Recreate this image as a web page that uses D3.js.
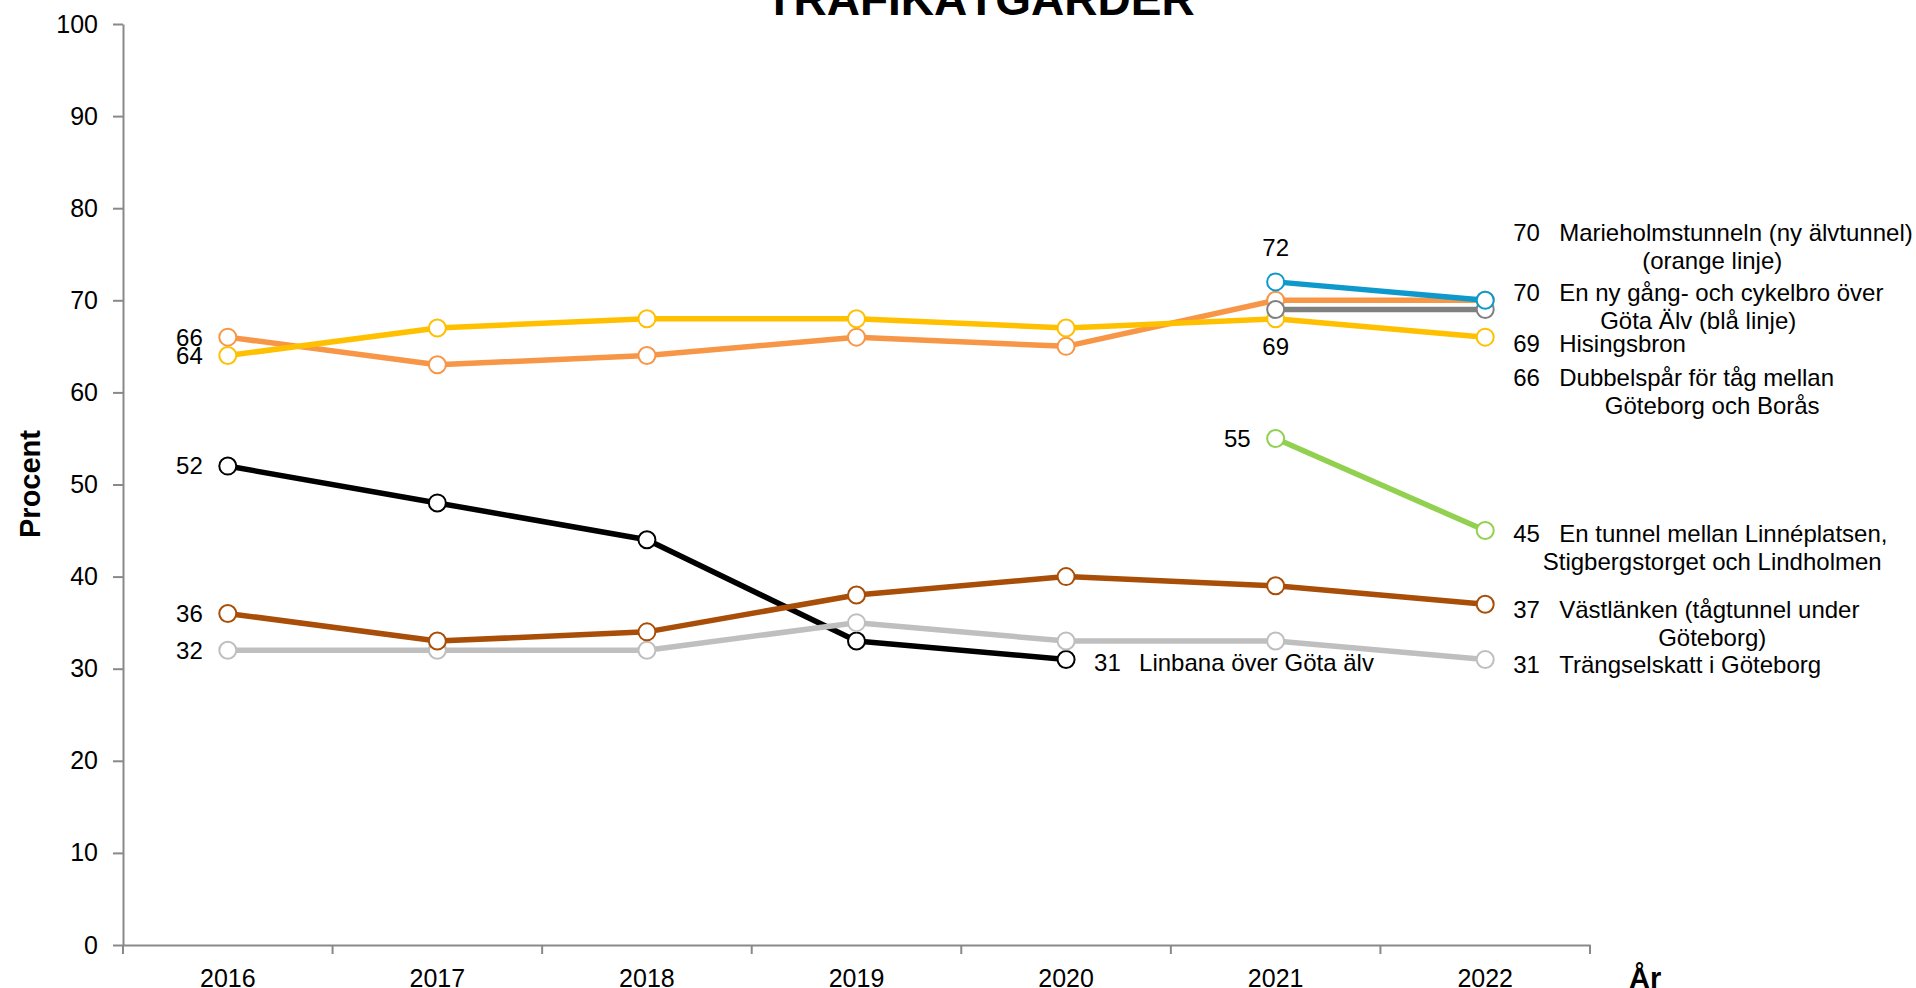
<!DOCTYPE html>
<meta charset="utf-8">
<script src="https://d3js.org/d3.v7.js"></script>
<style>
  body { margin: 0; background: #fff; }
  svg { display: block; font-family: "Liberation Sans", Arial, sans-serif; }
  .axis path, .axis line { stroke: #898989; stroke-width: 2px; }
  .axis text { font-size: 25px; fill: #000; }
</style>
<body>
<div id="chart"></div>
<script>
// --- data ---
const years = [2016, 2017, 2018, 2019, 2020, 2021, 2022];
const yTicks = [0, 10, 20, 30, 40, 50, 60, 70, 80, 90, 100];

const linbana     = [52, 48, 44, 33, 31, null, null];
const trangsel    = [32, 32, 32, 35, 33, 33, 31];
const vastlanken  = [36, 33, 34, 38, 40, 39, 37];
const marieholm   = [66, 63, 64, 66, 65, 70, 70];
const dubbelspar  = [64, 67, 68, 68, 67, 68, 66];
const linne       = [null, null, null, null, null, 55, 45];
const hisingsbron = [null, null, null, null, null, 69, 69];
const cykelbro    = [null, null, null, null, null, 72, 70];

const title = "TRAFIKÅTGÄRDER";
const yTitle = "Procent";
const xTitle = "År";

// drawing order = back to front
const series = [
  {key: "linbana", values: linbana, color: "#000000"},
  {key: "trangsel", values: trangsel, color: "#bfbfbf"},
  {key: "vastlanken", values: vastlanken, color: "#a84e08"},
  {key: "marieholm", values: marieholm, color: "#f79646"},
  {key: "dubbelspar", values: dubbelspar, color: "#ffc000"},
  {key: "linne", values: linne, color: "#92d050"},
  {key: "hisingsbron", values: hisingsbron, color: "#808080"},
  {key: "cykelbro", values: cykelbro, color: "#0e99cc"}
];

// end labels
const rightLabels = [
  {key: "marieholm", at: 77.4, dx2: 227, lines: ["Marieholmstunneln (ny älvtunnel)", "(orange linje)"]},
  {key: "cykelbro", at: 70.8, dx2: 213, lines: ["En ny gång- och cykelbro över", "Göta Älv (blå linje)"]},
  {key: "hisingsbron", at: 65.3, lines: ["Hisingsbron"]},
  {key: "dubbelspar", at: 61.6, dx2: 227, lines: ["Dubbelspår för tåg mellan", "Göteborg och Borås"]},
  {key: "linne", at: 44.7, dx2: 227, lines: ["En tunnel mellan Linnéplatsen,", "Stigbergstorget och Lindholmen"]},
  {key: "vastlanken", at: 36.4, dx2: 227, lines: ["Västlänken (tågtunnel under", "Göteborg)"]},
  {key: "trangsel", at: 30.4, lines: ["Trängselskatt i Göteborg"]}
];
const linbanaLabel = {key: "linbana", year: 2020, at: 30.7, lines: ["Linbana över Göta älv"]};
const leftLabelKeys = ["marieholm", "dubbelspar", "linbana", "vastlanken", "trangsel"];

// --- setup ---
const width = 1916, height = 988;
const svg = d3.select("#chart").append("svg")
  .attr("width", width).attr("height", height);

const xBand = d3.scaleBand().domain(years).range([123, 1590]);
const x = d => xBand(d) + xBand.bandwidth() / 2;
const y = d3.scaleLinear().domain([0, 100]).range([945, 24]);

const byKey = {};
series.forEach(s => byKey[s.key] = s);

// y axis
svg.append("g").attr("class", "axis")
  .attr("transform", "translate(123,0)")
  .call(d3.axisLeft(y).tickValues(yTicks).tickSize(10).tickPadding(15).tickSizeOuter(0));

// x axis: labels in band centres, tick marks on band edges
const xAxis = svg.append("g").attr("class", "axis")
  .attr("transform", "translate(0,945)")
  .call(d3.axisBottom(xBand).tickSize(0).tickPadding(24));
xAxis.selectAll(".tick line").remove();
xAxis.selectAll(".edge")
  .data(years.map(v => xBand(v)).concat([xBand.range()[1]]))
  .join("line")
    .attr("x1", d => d).attr("x2", d => d)
    .attr("y1", 0).attr("y2", 9)
    .attr("stroke", "#898989").attr("stroke-width", 2);

// titles
svg.append("text").attr("x", 980).attr("y", 15)
  .attr("text-anchor", "middle")
  .style("font-size", "46px").style("font-weight", "bold")
  .text(title);
svg.append("text")
  .attr("transform", "translate(40,484) rotate(-90)")
  .attr("text-anchor", "middle")
  .style("font-size", "29px").style("font-weight", "bold")
  .text(yTitle);
svg.append("text").attr("x", 1629).attr("y", 988)
  .style("font-size", "29px").style("font-weight", "bold")
  .text(xTitle);

// lines + markers
const line = d3.line()
  .defined(d => d.v != null)
  .x(d => x(d.year))
  .y(d => y(d.v));

series.forEach(s => {
  const pts = years.map((yr, i) => ({year: yr, v: s.values[i]}));
  const g = svg.append("g");
  g.append("path")
    .datum(pts)
    .attr("d", line)
    .attr("fill", "none")
    .attr("stroke", s.color)
    .attr("stroke-width", 5.5)
    .attr("stroke-linejoin", "round");
  g.selectAll("circle")
    .data(pts.filter(d => d.v != null))
    .join("circle")
      .attr("cx", d => x(d.year))
      .attr("cy", d => y(d.v))
      .attr("r", 8.5)
      .attr("fill", "#fff")
      .attr("stroke", s.color)
      .attr("stroke-width", 2);
});

// labels
const lab = svg.append("g").style("font-size", "24px").attr("fill", "#000");

leftLabelKeys.forEach(k => {
  const v = byKey[k].values[0];
  lab.append("text")
    .attr("x", x(years[0]) - 25).attr("y", y(v))
    .attr("dy", "0.35em").attr("text-anchor", "end")
    .text(v);
});

const last = years[years.length - 1];
rightLabels.forEach(l => {
  const s = byKey[l.key];
  const v = s.values[s.values.length - 1];
  const yy = y(l.at);
  lab.append("text").attr("x", x(last) + 28).attr("y", yy).attr("dy", "0.35em").text(v);
  lab.append("text").attr("x", x(last) + 74).attr("y", yy).attr("dy", "0.35em").text(l.lines[0]);
  if (l.lines[1]) {
    lab.append("text").attr("x", x(last) + l.dx2).attr("y", yy + 28)
      .attr("dy", "0.35em").attr("text-anchor", "middle").text(l.lines[1]);
  }
});

{
  const s = byKey[linbanaLabel.key];
  const v = s.values[years.indexOf(linbanaLabel.year)];
  const yy = y(linbanaLabel.at);
  lab.append("text").attr("x", x(linbanaLabel.year) + 28).attr("y", yy).attr("dy", "0.35em").text(v);
  lab.append("text").attr("x", x(linbanaLabel.year) + 73).attr("y", yy).attr("dy", "0.35em").text(linbanaLabel.lines[0]);
}

// 2021 labels
const i21 = years.indexOf(2021);
lab.append("text").attr("x", x(2021)).attr("y", y(cykelbro[i21]) - 34)
  .attr("dy", "0.35em").attr("text-anchor", "middle").text(cykelbro[i21]);
lab.append("text").attr("x", x(2021)).attr("y", y(hisingsbron[i21]) + 37)
  .attr("dy", "0.35em").attr("text-anchor", "middle").text(hisingsbron[i21]);
lab.append("text").attr("x", x(2021) - 25).attr("y", y(linne[i21]))
  .attr("dy", "0.35em").attr("text-anchor", "end").text(linne[i21]);
</script>
</body>
